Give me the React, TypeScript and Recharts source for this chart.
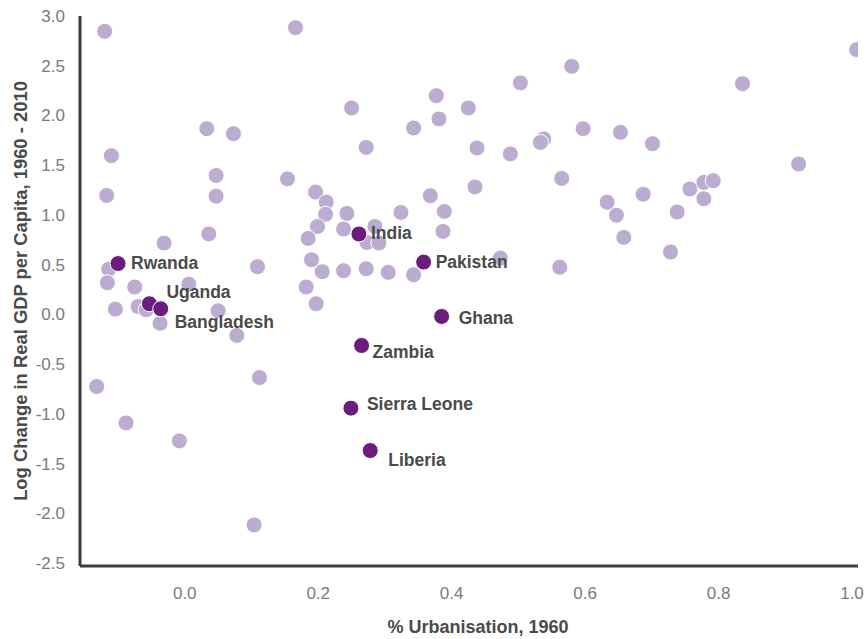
import { ScatterChart, Scatter, XAxis, YAxis } from "recharts";

// all other countries (light dots)
const OTHER_URBANISATION = [
  -0.12, 0.166, 0.033, 0.073, -0.11, 0.047, 0.154, -0.117, 0.047, 0.036,
  -0.031, -0.114, -0.116, -0.075, 0.006, 0.109, -0.104, -0.07, -0.058, -0.037,
  0.05, 0.078, -0.132, 0.112, -0.088, -0.008, 0.104, 0.25, 0.272, 0.343,
  0.377, 0.381, 0.425, 0.438, 0.503, 0.488, 0.538, 0.533, 0.58,
  0.565, 0.196, 0.212, 0.211, 0.243, 0.324, 0.368, 0.389, 0.435, 0.285,
  0.199, 0.185, 0.238, 0.273, 0.291, 0.387, 0.19, 0.206, 0.238, 0.272,
  0.305, 0.343, 0.473, 0.562, 0.182, 0.197, 0.836, 1.007, 0.597, 0.653,
  0.701, 0.92, 0.633, 0.687, 0.647, 0.738, 0.757, 0.778, 0.792, 0.778,
  0.658, 0.728,
];
const OTHER_GDP_CHANGE = [
  2.846, 2.883, 1.867, 1.817, 1.596, 1.397, 1.362, 1.196, 1.188, 0.809,
  0.717, 0.454, 0.318, 0.275, 0.303, 0.479, 0.053, 0.079, 0.046, -0.09,
  0.036, -0.212, -0.725, -0.635, -1.091, -1.272, -2.117, 2.075, 1.679, 1.874,
  2.199, 1.965, 2.075, 1.673, 2.327, 1.613, 1.764, 1.729, 2.494,
  1.367, 1.23, 1.128, 1.007, 1.015, 1.025, 1.193, 1.035, 1.281, 0.884,
  0.884, 0.764, 0.858, 0.723, 0.717, 0.834, 0.549, 0.429, 0.439, 0.459,
  0.422, 0.398, 0.566, 0.474, 0.275, 0.107, 2.32, 2.662, 1.867, 1.83,
  1.716, 1.512, 1.128, 1.208, 0.997, 1.029, 1.261, 1.327, 1.344, 1.163,
  0.774, 0.627,
];

// named countries (dark dots)
const HIGHLIGHT_COUNTRIES = [
  "Rwanda", "Uganda", "Bangladesh", "India", "Pakistan",
  "Ghana", "Zambia", "Sierra Leone", "Liberia",
];
const HIGHLIGHT_URBANISATION = [-0.1, -0.053, -0.036, 0.261, 0.358, 0.385, 0.265, 0.249, 0.278];
const HIGHLIGHT_GDP_CHANGE = [0.511, 0.107, 0.056, 0.808, 0.526, -0.021, -0.313, -0.943, -1.369];

const X_TICKS = [0, 0.2, 0.4, 0.6, 0.8, 1.0];
const Y_TICKS = [-2.5, -2, -1.5, -1, -0.5, 0, 0.5, 1, 1.5, 2, 2.5, 3];

// label placement relative to the dot centre (text start, vertical centre)
const LABEL_OFFSETS: Record<string, [number, number]> = {
  Rwanda: [13, -1],
  Uganda: [17, -12],
  Bangladesh: [14, 13],
  India: [12, -1],
  Pakistan: [12, 0],
  Ghana: [17, 2],
  Zambia: [11, 6],
  "Sierra Leone": [16, -4],
  Liberia: [18, 9],
};

const otherData = OTHER_URBANISATION.map((x, i) => ({ x, y: OTHER_GDP_CHANGE[i] }));
const highlightData = HIGHLIGHT_COUNTRIES.map((name, i) => ({
  name,
  x: HIGHLIGHT_URBANISATION[i],
  y: HIGHLIGHT_GDP_CHANGE[i],
}));

const FONT = '"Liberation Sans", Arial, sans-serif';
const AXIS_COLOR = "#3c3c3c";

const LightDot = (props: any) => (
  <circle cx={props.cx} cy={props.cy} r={8} fill="#bcadd0" stroke="#fff" strokeWidth={1} />
);

const DarkDot = (props: any) => {
  const name = props.payload?.name ?? "";
  const [dx, dy] = LABEL_OFFSETS[name] ?? [12, 0];
  return (
    <g>
      <circle cx={props.cx} cy={props.cy} r={8} fill="#6b1d7d" stroke="#fff" strokeWidth={1} />
      <text
        x={props.cx + dx}
        y={props.cy + dy + 6}
        fontFamily={FONT}
        fontSize={17.5}
        fontWeight="bold"
        fill="#4a4a4a"
      >
        {name}
      </text>
    </g>
  );
};

export default function App() {
  return (
    <div style={{ position: "absolute", left: 0, top: 0, background: "#fff" }}>
      <ScatterChart
        width={867}
        height={639}
        margin={{ top: 16, right: 9, bottom: 3, left: 10 }}
      >
        <XAxis
          type="number"
          dataKey="x"
          domain={[-0.157, 1.009]}
          allowDataOverflow
          ticks={X_TICKS}
          interval={0}
          tickFormatter={(v: number) => v.toFixed(1)}
          tickSize={0}
          tickMargin={21}
          height={70}
          axisLine={{ stroke: AXIS_COLOR, strokeWidth: 3 }}
          tick={{ fill: "#7a7a7a", fontSize: 17, fontFamily: FONT }}
          label={{
            value: "% Urbanisation, 1960",
            position: "insideBottom",
            offset: 3,
            dx: 9,
            style: { fill: "#4a4a4a", fontSize: 18, fontWeight: "bold", fontFamily: FONT },
          }}
        />
        <YAxis
          type="number"
          dataKey="y"
          domain={[-2.53, 3.0]}
          allowDataOverflow
          ticks={Y_TICKS}
          interval={0}
          tickFormatter={(v: number) => v.toFixed(1)}
          tickSize={0}
          tickMargin={15}
          width={70}
          axisLine={{ stroke: AXIS_COLOR, strokeWidth: 3 }}
          tick={{ fill: "#7a7a7a", fontSize: 17, fontFamily: FONT }}
          label={{
            value: "Log Change in Real GDP per Capita, 1960 - 2010",
            angle: -90,
            position: "insideLeft",
            offset: 10,
            style: {
              textAnchor: "middle",
              fill: "#4a4a4a",
              fontSize: 18.4,
              fontWeight: "bold",
              fontFamily: FONT,
            },
          }}
        />
        <Scatter data={otherData} shape={LightDot} isAnimationActive={false} />
        <Scatter data={highlightData} shape={DarkDot} isAnimationActive={false} />
      </ScatterChart>
    </div>
  );
}
